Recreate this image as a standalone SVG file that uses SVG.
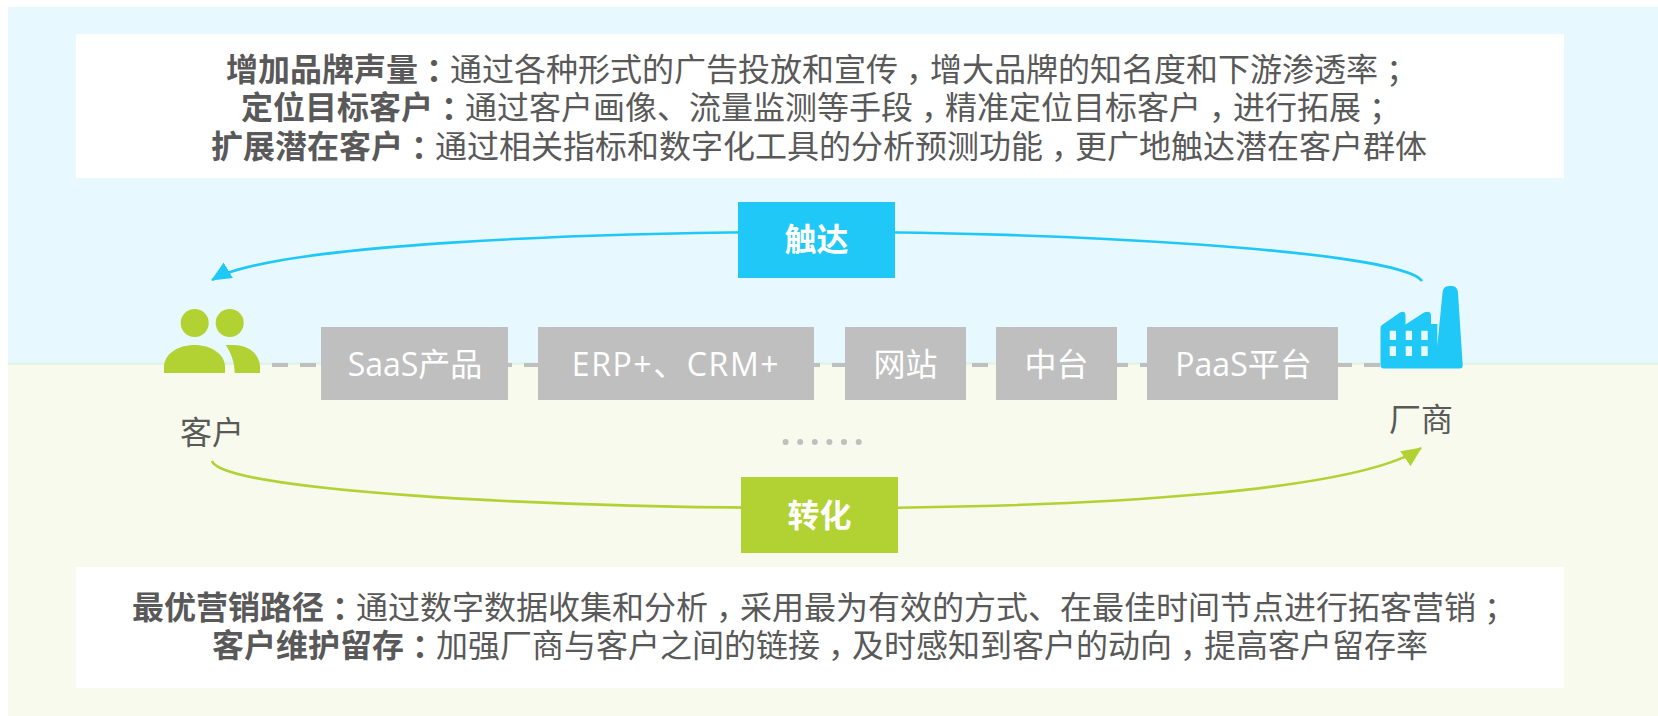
<svg xmlns="http://www.w3.org/2000/svg" width="1658" height="716" viewBox="0 0 1658 716">
<style>
text{font-family:"Noto Sans CJK SC","Noto Sans",sans-serif;font-size:32px;fill:#595959;text-anchor:middle}
.b{font-weight:700}
.w{fill:#fff}
.lat{font-family:"Open Sans","Noto Sans CJK SC",sans-serif}
.p{font-feature-settings:"halt"}
.box{fill:#fff}
.gray{fill:#BFBFBF}
.c{fill:#1FC8F6}
.g{fill:#B1D232}
.curve{fill:none;stroke-width:2.6}
</style>
<defs>
<marker id="ac" markerUnits="userSpaceOnUse" markerWidth="22" markerHeight="20" refX="19" refY="9" orient="auto"><path d="M0 0L20 9L0 18Z" fill="#1FC8F6"/></marker>
<marker id="ag" markerUnits="userSpaceOnUse" markerWidth="22" markerHeight="20" refX="19" refY="9" orient="auto"><path d="M0 0L20 9L0 18Z" fill="#B1D232"/></marker>
</defs>
<rect width="1658" height="716" fill="#fff"/>
<rect x="8" y="7" width="1650" height="356" fill="#E7F9FE"/>
<rect x="8" y="362" width="1650" height="3" fill="#E2F5EA"/>
<rect x="8" y="365" width="1650" height="351" fill="#F7FAEC"/>

<g id="connectors">
<path d="M272 365H1382" stroke="#BFBFBF" stroke-width="4" stroke-dasharray="16 12" fill="none"/>
<path class="curve" stroke="#1FC8F6" marker-end="url(#ac)" d="M1422 281C1400 250 1050 231 817 232C580 232 270 245 212 280"/>
<path class="curve" stroke="#B1D232" marker-end="url(#ag)" d="M212 461C222 490 530 508 820 508C1110 508 1360 490 1421 448"/>
</g>

<g id="top-box">
<rect class="box" x="76" y="34" width="1488" height="144"/>
<text x="814" y="80.500"><tspan class="b">增加品牌声量<tspan class="p" dx="8">：</tspan></tspan><tspan dx="8">通过各种形式的广告投放和宣传</tspan><tspan class="p" dx="8">，</tspan><tspan dx="8">增大品牌的知名度和下游渗透率</tspan><tspan class="p" dx="8">；</tspan></text>
<text x="813" y="119"><tspan class="b">定位目标客户<tspan class="p" dx="8">：</tspan></tspan><tspan dx="8">通过客户画像、流量监测等手段</tspan><tspan class="p" dx="8">，</tspan><tspan dx="8">精准定位目标客户</tspan><tspan class="p" dx="8">，</tspan><tspan dx="8">进行拓展</tspan><tspan class="p" dx="8">；</tspan></text>
<text x="819" y="158"><tspan class="b">扩展潜在客户<tspan class="p" dx="8">：</tspan></tspan><tspan dx="8">通过相关指标和数字化工具的分析预测功能</tspan><tspan class="p" dx="8">，</tspan><tspan dx="8">更广地触达潜在客户群体</tspan></text>
</g>

<g id="touch">
<rect class="c" x="738" y="202" width="157" height="76"/>
<text class="b w" x="816.5" y="251">触达</text>
</g>

<g id="customer">
<circle class="g" cx="194.7" cy="323" r="14"/>
<circle class="g" cx="229.7" cy="323" r="14"/>
<path class="g" d="M164 373V367C164 354 178 345 194.500 345C211 345 225 354 225 367V373Z"/>
<path class="g" d="M225.700 345H234C248 345 260 354 260 367V373H234.700C234.700 362 231 353 225.700 345Z"/>
<text x="212" y="444">客户</text>
</g>

<g id="saas"><rect class="gray" x="321" y="327" width="187" height="73"/><text class="w lat" x="415" y="376">SaaS产品</text></g>
<g id="erp"><rect class="gray" x="538" y="327" width="276" height="73"/><text class="w lat" x="676" y="376" letter-spacing="1.6">ERP+、CRM+</text></g>
<g id="site"><rect class="gray" x="845" y="327" width="121" height="73"/><text class="w" x="905.500" y="376">网站</text></g>
<g id="platform"><rect class="gray" x="996" y="327" width="121" height="73"/><text class="w" x="1056.500" y="376">中台</text></g>
<g id="paas"><rect class="gray" x="1147" y="327" width="191" height="73"/><text class="w lat" x="1243.500" y="376">PaaS平台</text></g>

<g id="vendor">
<path class="c" fill-rule="evenodd" d="M1380.500 328Q1380.500 326 1382 325L1400 312.500Q1405 310 1405.500 315V324.500L1424 312.500Q1430.500 310 1431 315V324H1437.300V346L1442.500 293Q1443 286 1449 286H1452Q1457.500 286 1458 293L1462.700 365Q1463 368.500 1459.500 368.500H1384Q1380.500 368.500 1380.500 365ZM1389.700 330.700V340H1396V330.700ZM1405.700 330.700V340H1412V330.700ZM1421.300 330.700V340H1427.700V330.700ZM1389.700 346.300V356H1396V346.300ZM1405.700 346.300V356H1412V346.300ZM1421.300 346.300V356H1427.700V346.300Z"/>
<text x="1421" y="431">厂商</text>
</g>

<g id="more" fill="#BFBFBF">
<circle cx="785.600" cy="442" r="3"/><circle cx="800.200" cy="442" r="3"/><circle cx="814.800" cy="442" r="3"/><circle cx="829.400" cy="442" r="3"/><circle cx="844" cy="442" r="3"/><circle cx="858.700" cy="442" r="3"/>
</g>

<g id="convert">
<rect class="g" x="741" y="477" width="157" height="76"/>
<text class="b w" x="819.500" y="527">转化</text>
</g>

<g id="bottom-box">
<rect class="box" x="76" y="567" width="1488" height="121"/>
<text x="816" y="619"><tspan class="b">最优营销路径<tspan class="p" dx="8">：</tspan></tspan><tspan dx="8">通过数字数据收集和分析</tspan><tspan class="p" dx="8">，</tspan><tspan dx="8">采用最为有效的方式、在最佳时间节点进行拓客营销</tspan><tspan class="p" dx="8">；</tspan></text>
<text x="820" y="657"><tspan class="b">客户维护留存<tspan class="p" dx="8">：</tspan></tspan><tspan dx="8">加强厂商与客户之间的链接</tspan><tspan class="p" dx="8">，</tspan><tspan dx="8">及时感知到客户的动向</tspan><tspan class="p" dx="8">，</tspan><tspan dx="8">提高客户留存率</tspan></text>
</g>
</svg>
